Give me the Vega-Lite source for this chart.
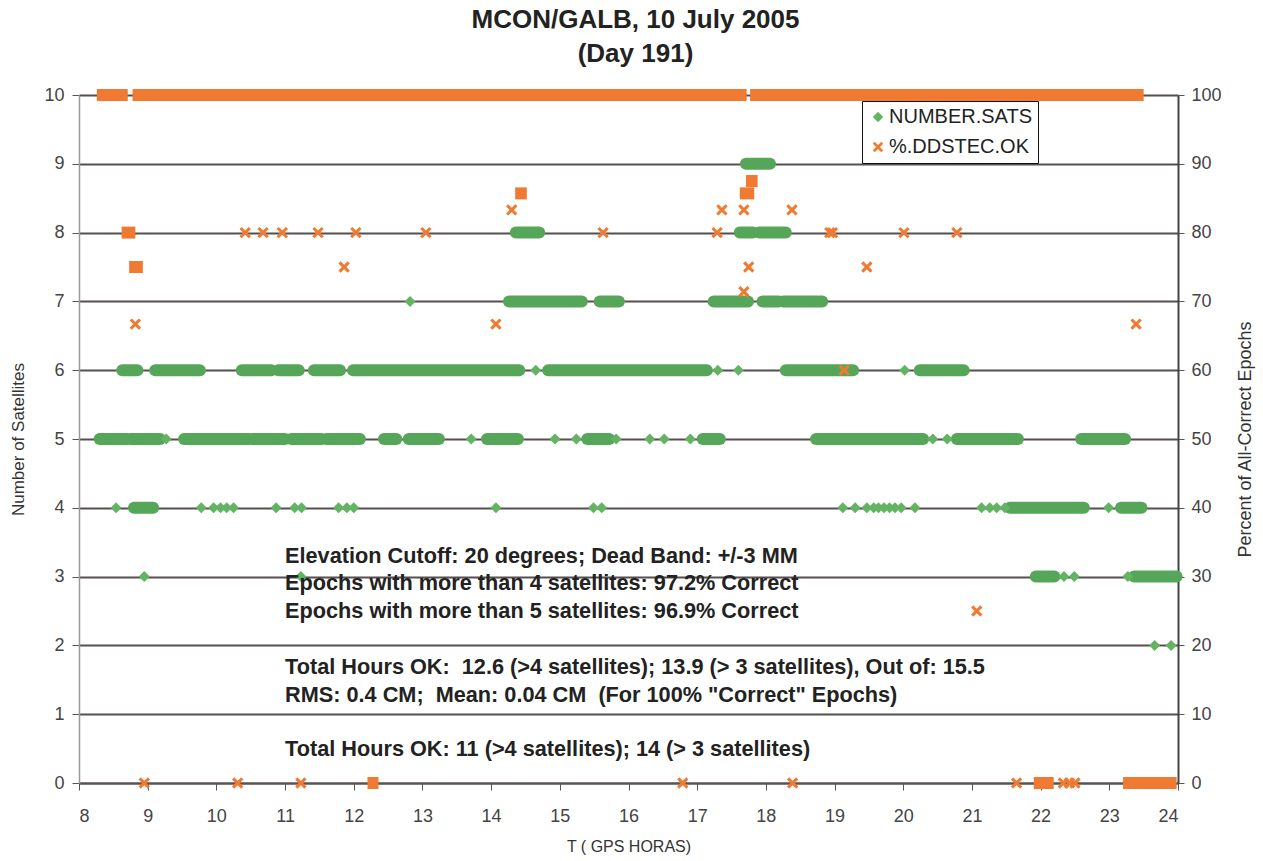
{
  "$schema": "https://vega.github.io/schema/vega-lite/v6.json",
  "width": 1099,
  "height": 688,
  "autosize": {"type": "none"},
  "padding": {"left": 79, "top": 95, "right": 85, "bottom": 78},
  "background": "white",
  "config": {
    "view": {"stroke": null},
    "font": "Liberation Sans",
    "axis": {"labelFont": "Liberation Sans", "titleFont": "Liberation Sans", "labelColor": "#444", "titleColor": "#333", "labelFontSize": 18, "titleFontWeight": "normal", "tickColor": "#555", "domainColor": "#666"},
    "axisBottom": {"tickSize": 7, "labelPadding": 17, "titleFontSize": 16, "titlePadding": 13, "domainColor": "#5a5452", "domainWidth": 2, "grid": false},
    "axisLeft": {"tickSize": 7, "labelPadding": 8, "titleFontSize": 17, "titlePadding": 16, "gridColor": "#554f4d", "gridWidth": 2, "gridOpacity": 1, "domainColor": "#999", "domainWidth": 1.5},
    "axisRight": {"tickSize": 6, "labelPadding": 7, "titleFontSize": 18, "titlePadding": 33, "titleAngle": 270, "domainColor": "#444", "domainWidth": 2, "grid": false},
    "legend": {"orient": "none", "legendX": 783, "legendY": 6, "strokeColor": "#111", "fillColor": "white", "padding": 6, "labelFontSize": 20, "labelFont": "Liberation Sans", "labelColor": "#222", "symbolSize": 110, "rowPadding": 10, "labelOffset": 1, "symbolStrokeWidth": 0}
  },
  "title": {
    "text": ["MCON/GALB, 10 July 2005", "(Day 191)"],
    "fontSize": 26,
    "fontWeight": "bold",
    "font": "Liberation Sans",
    "color": "#222",
    "anchor": "middle",
    "lineHeight": 34,
    "offset": 19,
    "dx": 7
  },
  "datasets": {
    "sats_runs": [
      {"s": "NUMBER.SATS", "t": 17.71, "t2": 18.06, "v": 9},
      {"s": "NUMBER.SATS", "t": 14.36, "t2": 14.70, "v": 8},
      {"s": "NUMBER.SATS", "t": 17.62, "t2": 17.81, "v": 8},
      {"s": "NUMBER.SATS", "t": 17.90, "t2": 18.29, "v": 8},
      {"s": "NUMBER.SATS", "t": 14.26, "t2": 15.32, "v": 7},
      {"s": "NUMBER.SATS", "t": 15.58, "t2": 15.86, "v": 7},
      {"s": "NUMBER.SATS", "t": 17.24, "t2": 17.74, "v": 7},
      {"s": "NUMBER.SATS", "t": 17.95, "t2": 18.19, "v": 7},
      {"s": "NUMBER.SATS", "t": 18.25, "t2": 18.82, "v": 7},
      {"s": "NUMBER.SATS", "t": 8.63, "t2": 8.85, "v": 6},
      {"s": "NUMBER.SATS", "t": 9.11, "t2": 9.76, "v": 6},
      {"s": "NUMBER.SATS", "t": 10.37, "t2": 10.80, "v": 6},
      {"s": "NUMBER.SATS", "t": 10.90, "t2": 11.20, "v": 6},
      {"s": "NUMBER.SATS", "t": 11.42, "t2": 11.80, "v": 6},
      {"s": "NUMBER.SATS", "t": 11.99, "t2": 14.41, "v": 6},
      {"s": "NUMBER.SATS", "t": 14.83, "t2": 17.14, "v": 6},
      {"s": "NUMBER.SATS", "t": 18.29, "t2": 19.27, "v": 6},
      {"s": "NUMBER.SATS", "t": 20.24, "t2": 20.88, "v": 6},
      {"s": "NUMBER.SATS", "t": 8.30, "t2": 8.71, "v": 5},
      {"s": "NUMBER.SATS", "t": 8.76, "t2": 9.18, "v": 5},
      {"s": "NUMBER.SATS", "t": 9.53, "t2": 10.47, "v": 5},
      {"s": "NUMBER.SATS", "t": 10.52, "t2": 11.00, "v": 5},
      {"s": "NUMBER.SATS", "t": 11.09, "t2": 11.53, "v": 5},
      {"s": "NUMBER.SATS", "t": 11.60, "t2": 12.09, "v": 5},
      {"s": "NUMBER.SATS", "t": 12.44, "t2": 12.62, "v": 5},
      {"s": "NUMBER.SATS", "t": 12.80, "t2": 13.24, "v": 5},
      {"s": "NUMBER.SATS", "t": 13.94, "t2": 14.39, "v": 5},
      {"s": "NUMBER.SATS", "t": 15.40, "t2": 15.72, "v": 5},
      {"s": "NUMBER.SATS", "t": 17.08, "t2": 17.33, "v": 5},
      {"s": "NUMBER.SATS", "t": 18.73, "t2": 20.29, "v": 5},
      {"s": "NUMBER.SATS", "t": 20.78, "t2": 21.67, "v": 5},
      {"s": "NUMBER.SATS", "t": 22.59, "t2": 23.23, "v": 5},
      {"s": "NUMBER.SATS", "t": 8.80, "t2": 9.08, "v": 4},
      {"s": "NUMBER.SATS", "t": 21.55, "t2": 22.63, "v": 4},
      {"s": "NUMBER.SATS", "t": 23.17, "t2": 23.47, "v": 4},
      {"s": "NUMBER.SATS", "t": 21.93, "t2": 22.20, "v": 3},
      {"s": "NUMBER.SATS", "t": 23.36, "t2": 23.98, "v": 3}
    ],
    "sats_pts": [
      {"s": "NUMBER.SATS", "t": 12.82, "v": 7},
      {"s": "NUMBER.SATS", "t": 14.65, "v": 6},
      {"s": "NUMBER.SATS", "t": 17.30, "v": 6},
      {"s": "NUMBER.SATS", "t": 17.60, "v": 6},
      {"s": "NUMBER.SATS", "t": 20.02, "v": 6},
      {"s": "NUMBER.SATS", "t": 9.27, "v": 5},
      {"s": "NUMBER.SATS", "t": 13.71, "v": 5},
      {"s": "NUMBER.SATS", "t": 14.93, "v": 5},
      {"s": "NUMBER.SATS", "t": 15.24, "v": 5},
      {"s": "NUMBER.SATS", "t": 15.82, "v": 5},
      {"s": "NUMBER.SATS", "t": 16.31, "v": 5},
      {"s": "NUMBER.SATS", "t": 16.52, "v": 5},
      {"s": "NUMBER.SATS", "t": 16.90, "v": 5},
      {"s": "NUMBER.SATS", "t": 20.43, "v": 5},
      {"s": "NUMBER.SATS", "t": 20.64, "v": 5},
      {"s": "NUMBER.SATS", "t": 8.54, "v": 4},
      {"s": "NUMBER.SATS", "t": 9.78, "v": 4},
      {"s": "NUMBER.SATS", "t": 9.96, "v": 4},
      {"s": "NUMBER.SATS", "t": 10.06, "v": 4},
      {"s": "NUMBER.SATS", "t": 10.15, "v": 4},
      {"s": "NUMBER.SATS", "t": 10.25, "v": 4},
      {"s": "NUMBER.SATS", "t": 10.87, "v": 4},
      {"s": "NUMBER.SATS", "t": 11.14, "v": 4},
      {"s": "NUMBER.SATS", "t": 11.24, "v": 4},
      {"s": "NUMBER.SATS", "t": 11.78, "v": 4},
      {"s": "NUMBER.SATS", "t": 11.90, "v": 4},
      {"s": "NUMBER.SATS", "t": 12.00, "v": 4},
      {"s": "NUMBER.SATS", "t": 14.07, "v": 4},
      {"s": "NUMBER.SATS", "t": 15.49, "v": 4},
      {"s": "NUMBER.SATS", "t": 15.61, "v": 4},
      {"s": "NUMBER.SATS", "t": 19.12, "v": 4},
      {"s": "NUMBER.SATS", "t": 19.30, "v": 4},
      {"s": "NUMBER.SATS", "t": 19.47, "v": 4},
      {"s": "NUMBER.SATS", "t": 19.57, "v": 4},
      {"s": "NUMBER.SATS", "t": 19.64, "v": 4},
      {"s": "NUMBER.SATS", "t": 19.72, "v": 4},
      {"s": "NUMBER.SATS", "t": 19.80, "v": 4},
      {"s": "NUMBER.SATS", "t": 19.88, "v": 4},
      {"s": "NUMBER.SATS", "t": 19.97, "v": 4},
      {"s": "NUMBER.SATS", "t": 20.17, "v": 4},
      {"s": "NUMBER.SATS", "t": 21.14, "v": 4},
      {"s": "NUMBER.SATS", "t": 21.26, "v": 4},
      {"s": "NUMBER.SATS", "t": 21.36, "v": 4},
      {"s": "NUMBER.SATS", "t": 21.48, "v": 4},
      {"s": "NUMBER.SATS", "t": 22.99, "v": 4},
      {"s": "NUMBER.SATS", "t": 8.95, "v": 3},
      {"s": "NUMBER.SATS", "t": 11.23, "v": 3},
      {"s": "NUMBER.SATS", "t": 22.34, "v": 3},
      {"s": "NUMBER.SATS", "t": 22.49, "v": 3},
      {"s": "NUMBER.SATS", "t": 23.27, "v": 3},
      {"s": "NUMBER.SATS", "t": 23.66, "v": 2},
      {"s": "NUMBER.SATS", "t": 23.90, "v": 2}
    ],
    "pct_runs": [
      {"s": "%.DDSTEC.OK", "t": 8.26, "t2": 8.71, "p": 100},
      {"s": "%.DDSTEC.OK", "t": 8.78, "t2": 17.72, "p": 100},
      {"s": "%.DDSTEC.OK", "t": 17.77, "t2": 23.50, "p": 100},
      {"s": "%.DDSTEC.OK", "t": 17.71, "t2": 17.88, "p": 87.5},
      {"s": "%.DDSTEC.OK", "t": 14.35, "t2": 14.52, "p": 85.7},
      {"s": "%.DDSTEC.OK", "t": 17.62, "t2": 17.83, "p": 85.7},
      {"s": "%.DDSTEC.OK", "t": 8.62, "t2": 8.82, "p": 80},
      {"s": "%.DDSTEC.OK", "t": 8.73, "t2": 8.93, "p": 75},
      {"s": "%.DDSTEC.OK", "t": 12.20, "t2": 12.36, "p": 0},
      {"s": "%.DDSTEC.OK", "t": 21.90, "t2": 22.19, "p": 0},
      {"s": "%.DDSTEC.OK", "t": 23.20, "t2": 23.98, "p": 0}
    ],
    "pct_pts": [
      {"s": "%.DDSTEC.OK", "t": 14.30, "p": 83.3},
      {"s": "%.DDSTEC.OK", "t": 17.36, "p": 83.3},
      {"s": "%.DDSTEC.OK", "t": 17.68, "p": 83.3},
      {"s": "%.DDSTEC.OK", "t": 18.38, "p": 83.3},
      {"s": "%.DDSTEC.OK", "t": 10.42, "p": 80},
      {"s": "%.DDSTEC.OK", "t": 10.68, "p": 80},
      {"s": "%.DDSTEC.OK", "t": 10.96, "p": 80},
      {"s": "%.DDSTEC.OK", "t": 11.48, "p": 80},
      {"s": "%.DDSTEC.OK", "t": 12.03, "p": 80},
      {"s": "%.DDSTEC.OK", "t": 13.05, "p": 80},
      {"s": "%.DDSTEC.OK", "t": 15.63, "p": 80},
      {"s": "%.DDSTEC.OK", "t": 17.29, "p": 80},
      {"s": "%.DDSTEC.OK", "t": 18.93, "p": 80},
      {"s": "%.DDSTEC.OK", "t": 18.97, "p": 80},
      {"s": "%.DDSTEC.OK", "t": 20.01, "p": 80},
      {"s": "%.DDSTEC.OK", "t": 20.78, "p": 80},
      {"s": "%.DDSTEC.OK", "t": 11.86, "p": 75},
      {"s": "%.DDSTEC.OK", "t": 17.75, "p": 75},
      {"s": "%.DDSTEC.OK", "t": 19.47, "p": 75},
      {"s": "%.DDSTEC.OK", "t": 17.68, "p": 71.4},
      {"s": "%.DDSTEC.OK", "t": 8.82, "p": 66.7},
      {"s": "%.DDSTEC.OK", "t": 14.07, "p": 66.7},
      {"s": "%.DDSTEC.OK", "t": 23.39, "p": 66.7},
      {"s": "%.DDSTEC.OK", "t": 19.14, "p": 60},
      {"s": "%.DDSTEC.OK", "t": 21.07, "p": 25},
      {"s": "%.DDSTEC.OK", "t": 8.95, "p": 0},
      {"s": "%.DDSTEC.OK", "t": 10.31, "p": 0},
      {"s": "%.DDSTEC.OK", "t": 11.23, "p": 0},
      {"s": "%.DDSTEC.OK", "t": 16.79, "p": 0},
      {"s": "%.DDSTEC.OK", "t": 18.39, "p": 0},
      {"s": "%.DDSTEC.OK", "t": 21.65, "p": 0},
      {"s": "%.DDSTEC.OK", "t": 22.33, "p": 0},
      {"s": "%.DDSTEC.OK", "t": 22.42, "p": 0},
      {"s": "%.DDSTEC.OK", "t": 22.50, "p": 0}
    ],
    "notes": [
      {"t": 11.0, "v": 3.30, "label": "Elevation Cutoff: 20 degrees; Dead Band: +/-3 MM"},
      {"t": 11.0, "v": 2.91, "label": "Epochs with more than 4 satellites: 97.2% Correct"},
      {"t": 11.0, "v": 2.50, "label": "Epochs with more than 5 satellites: 96.9% Correct"},
      {"t": 11.0, "v": 1.69, "label": "Total Hours OK: \u00a012.6 (>4 satellites); 13.9 (> 3 satellites), Out of: 15.5"},
      {"t": 11.0, "v": 1.28, "label": "RMS: 0.4 CM; \u00a0Mean: 0.04 CM \u00a0(For 100% \"Correct\" Epochs)"},
      {"t": 11.0, "v": 0.49, "label": "Total Hours OK: 11 (>4 satellites); 14 (> 3 satellites)"}
    ]
  },
  "layer": [
    {
      "layer": [
        {
          "data": {"name": "sats_runs"},
          "mark": {"type": "rule", "strokeWidth": 12, "strokeCap": "round", "color": "#56a659"},
          "encoding": {
            "x": {"field": "t", "type": "quantitative", "scale": {"domain": [8, 24], "nice": false, "zero": false}, "axis": {"values": [8,9,10,11,12,13,14,15,16,17,18,19,20,21,22,23,24], "title": "T ( GPS HORAS)", "format": "d"}},
            "x2": {"field": "t2"},
            "y": {"field": "v", "type": "quantitative", "scale": {"domain": [0, 10], "nice": false, "zero": true}, "axis": {"orient": "left", "values": [0,1,2,3,4,5,6,7,8,9,10], "grid": true, "title": "Number of Satellites", "format": "d"}}
          }
        },
        {
          "data": {"name": "sats_pts"},
          "mark": {"type": "point", "filled": true, "opacity": 1, "size": 120},
          "encoding": {
            "x": {"field": "t", "type": "quantitative"},
            "y": {"field": "v", "type": "quantitative"},
            "color": {"field": "s", "type": "nominal", "scale": {"domain": ["NUMBER.SATS", "%.DDSTEC.OK"], "range": ["#62b463", "#f07a32"]}, "legend": {"title": null}},
            "shape": {"field": "s", "type": "nominal", "scale": {"domain": ["NUMBER.SATS", "%.DDSTEC.OK"], "range": ["diamond", "M-1,-0.62L-0.62,-1L0,-0.38L0.62,-1L1,-0.62L0.38,0L1,0.62L0.62,1L0,0.38L-0.62,1L-1,0.62L-0.38,0Z"]}, "legend": {"title": null}}
          }
        },
        {
          "data": {"name": "notes"},
          "mark": {"type": "text", "align": "left", "baseline": "middle", "fontSize": 21.7, "fontWeight": "bold", "font": "Liberation Sans", "color": "#222"},
          "encoding": {
            "x": {"field": "t", "type": "quantitative"},
            "y": {"field": "v", "type": "quantitative"},
            "text": {"field": "label", "type": "nominal"}
          }
        }
      ]
    },
    {
      "layer": [
        {
          "data": {"name": "pct_runs"},
          "mark": {"type": "rule", "strokeWidth": 12, "strokeCap": "butt", "color": "#f07a32"},
          "encoding": {
            "x": {"field": "t", "type": "quantitative"},
            "x2": {"field": "t2"},
            "y": {"field": "p", "type": "quantitative", "scale": {"domain": [0, 100], "nice": false}, "axis": {"orient": "right", "values": [0,10,20,30,40,50,60,70,80,90,100], "grid": false, "title": "Percent of All-Correct Epochs", "format": "d"}}
          }
        },
        {
          "data": {"name": "pct_pts"},
          "mark": {"type": "point", "filled": true, "opacity": 1, "size": 130},
          "encoding": {
            "x": {"field": "t", "type": "quantitative"},
            "y": {"field": "p", "type": "quantitative"},
            "color": {"field": "s", "type": "nominal", "legend": {"title": null}},
            "shape": {"field": "s", "type": "nominal", "legend": {"title": null}}
          }
        }
      ]
    }
  ],
  "resolve": {"scale": {"y": "independent"}}
}
